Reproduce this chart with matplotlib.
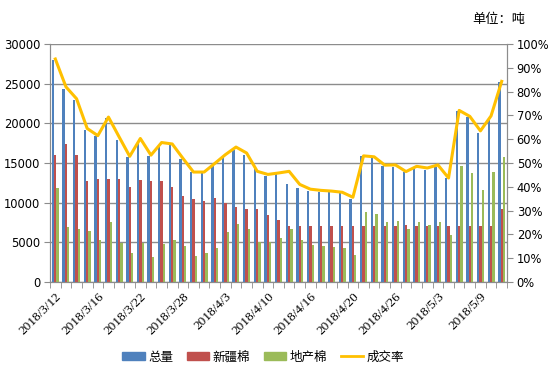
# 棉花成交情况：总量 / 新疆棉 / 地产棉 (吨) + 成交率 (%)
import matplotlib
matplotlib.use('Agg')
from matplotlib import pyplot as plt
from matplotlib.patches import Patch
from matplotlib.lines import Line2D
from matplotlib.ticker import FuncFormatter
import numpy as np

plt.rcParams['font.family'] = ['DejaVu Sans', 'Noto Sans CJK SC']

dates = ['2018/3/12', '2018/3/13', '2018/3/14', '2018/3/15', '2018/3/16',
         '2018/3/19', '2018/3/20', '2018/3/21', '2018/3/22', '2018/3/23',
         '2018/3/26', '2018/3/27', '2018/3/28', '2018/3/29', '2018/3/30',
         '2018/4/2', '2018/4/3', '2018/4/4', '2018/4/8', '2018/4/9',
         '2018/4/10', '2018/4/11', '2018/4/12', '2018/4/13', '2018/4/16',
         '2018/4/17', '2018/4/18', '2018/4/19', '2018/4/20', '2018/4/23',
         '2018/4/24', '2018/4/25', '2018/4/26', '2018/4/27', '2018/4/28',
         '2018/5/2', '2018/5/3', '2018/5/4', '2018/5/7', '2018/5/8',
         '2018/5/9', '2018/5/10', '2018/5/11']

total = [28000, 24300, 23000, 19100, 18400, 20700, 17900, 15700, 17600, 15900,
         17300, 17300, 15500, 13900, 13700, 14700, 15700, 16600, 16000, 14300,
         13400, 13600, 12400, 11800, 11500, 11400, 11300, 11200, 10450, 15850,
         15630, 14620, 14450, 13900, 14250, 14100, 14450, 13100, 21500, 20800,
         18780, 20400, 25200]
xinjiang = [16000, 17400, 16000, 12700, 13000, 13000, 13000, 12000, 12900, 12700,
            12700, 12000, 10900, 10500, 10200, 10600, 9950, 9500, 9250, 9250,
            8400, 7850, 7050, 7030, 7030, 7030, 7030, 7030, 7030, 7030,
            7100, 7030, 7070, 7150, 7030, 7030, 7070, 7030, 7030, 7030,
            7030, 7030, 9220]
local = [11900, 6900, 6700, 6400, 5300, 7600, 4900, 3700, 4900, 3200,
         4800, 5300, 4600, 3300, 3700, 4300, 6250, 7350, 6700, 5000,
         5000, 5600, 6700, 5330, 4650, 4500, 4420, 4250, 3450, 8780,
         8610, 7520, 7650, 6650, 7520, 7230, 7520, 5970, 14580, 13740,
         11640, 13860, 15750]
rate = [93.7, 82.0, 77.0, 64.5, 61.5, 69.3, 61.0, 52.8, 60.3, 53.3,
        58.6, 58.0, 52.0, 46.2, 46.2, 49.8, 53.5, 56.7, 54.2, 46.5,
        45.2, 45.8, 46.5, 41.0, 39.0, 38.5, 38.2, 37.7, 35.6, 53.0,
        52.6, 49.1, 49.2, 46.4, 48.6, 47.9, 49.2, 43.7, 72.1, 69.6,
        63.5, 69.8, 84.3]

c_blue = '#4F81BD'
c_red = '#C0504D'
c_green = '#9BBB59'
c_line = '#FFC000'
c_grid = '#8C8C8C'

W, H = 554, 378
fig = plt.figure(figsize=(W / 100, H / 100), dpi=100)
ax = fig.add_axes([50 / W, (H - 282) / H, (507 - 50) / W, (282 - 44) / H])

x = np.arange(len(dates))
bw = 0.22
ax.bar(x - bw, total, bw, color=c_blue, zorder=3)
ax.bar(x, xinjiang, bw, color=c_red, zorder=3)
ax.bar(x + bw, local, bw, color=c_green, zorder=3)

ax.set_xlim(-0.5, len(dates) - 0.5)
ax.set_ylim(0, 30000)
ax.set_yticks(range(0, 30001, 5000))
ax.yaxis.grid(True, color=c_grid, linewidth=1)
ax.set_axisbelow(True)

# ticks between categories, labels every 4th category
ax.set_xticks(x[::4])
ax.set_xticklabels(dates[::4], rotation=45, ha='right', rotation_mode='anchor',
                   fontsize=9.5, fontfamily='Liberation Serif')
ax.set_xticks(np.arange(-0.5, len(dates), 1), minor=True)
ax.tick_params(axis='x', which='major', length=0, pad=6)
ax.tick_params(axis='x', which='minor', length=4, color=c_grid)
ax.tick_params(axis='y', length=4, color=c_grid, labelsize=8.3, pad=3)

ax.spines['top'].set_visible(False)
for s in ['left', 'bottom', 'right']:
    ax.spines[s].set_color(c_grid)

ax2 = ax.twinx()
ax2.plot(x, rate, color=c_line, linewidth=2.2, zorder=5)
ax2.set_ylim(0, 100)
ax2.set_yticks(range(0, 101, 10))
ax2.yaxis.set_major_formatter(FuncFormatter(lambda v, p: '%d%%' % v))
ax2.tick_params(axis='y', length=4, color=c_grid, labelsize=8.3, pad=3)
ax2.spines['top'].set_visible(False)
for s in ['left', 'bottom', 'right']:
    ax2.spines[s].set_color(c_grid)

fig.text(525 / W, 1 - 20 / H, '单位：吨', ha='right', va='center',
         fontsize=9.5, fontfamily='Noto Sans CJK SC')

handles = [Patch(color=c_blue), Patch(color=c_red), Patch(color=c_green),
           Line2D([], [], color=c_line, linewidth=2)]
labels = ['总量', '新疆棉', '地产棉', '成交率']
fig.legend(handles, labels, loc='center', bbox_to_anchor=(263 / W, 1 - 357 / H),
           ncol=4, frameon=False, handlelength=1.8, handleheight=0.6,
           columnspacing=1.1, handletextpad=0.25,
           prop={'family': 'Noto Sans CJK SC', 'size': 9})

plt.savefig('out.png', dpi=100)
